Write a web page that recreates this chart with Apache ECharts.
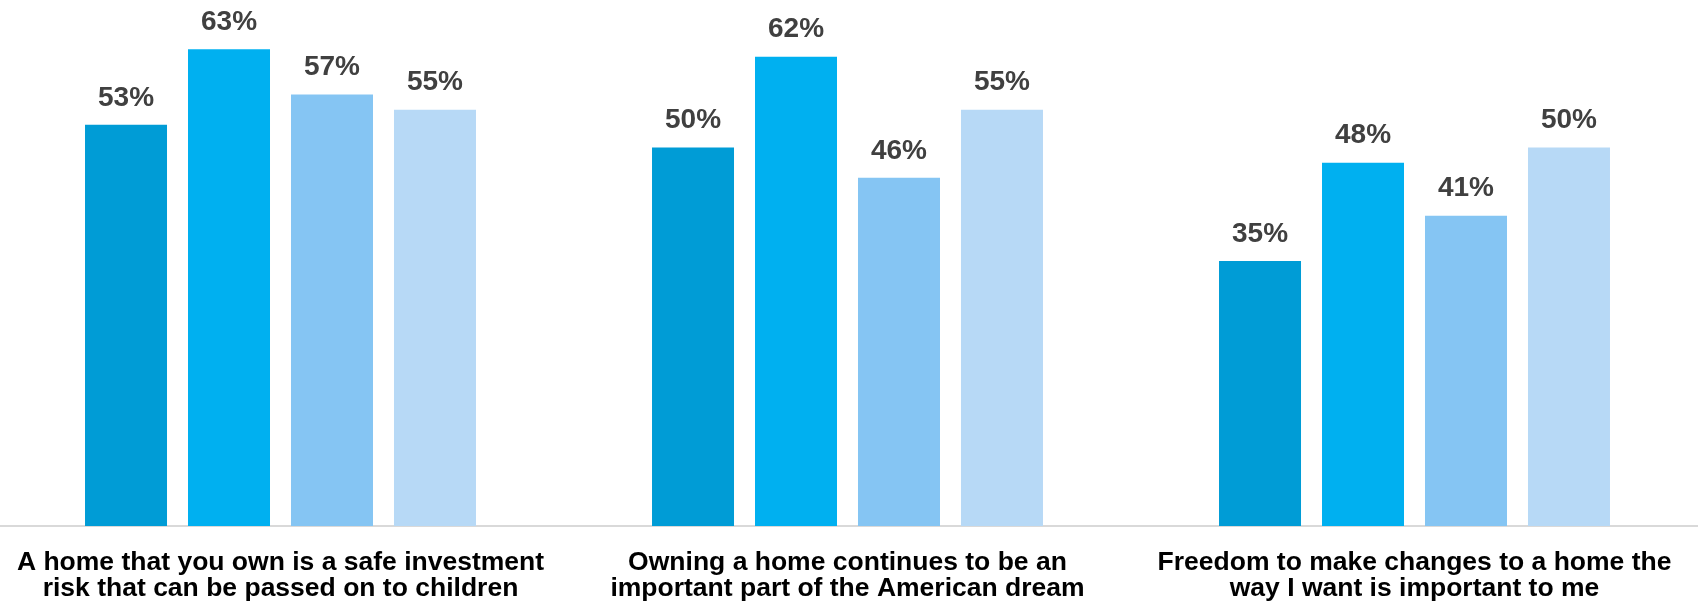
<!DOCTYPE html>
<html>
<head>
<meta charset="utf-8">
<script src="https://cdn.jsdelivr.net/npm/echarts@6/dist/echarts.min.js"></script>
<style>html,body{margin:0;padding:0;background:#fff;}#c{width:1698px;height:603px;}</style>
</head>
<body>
<div id="c"></div>
<script>
const categories = [
  "A home that you own is a safe investment\nrisk that can be passed on to children",
  "Owning a home continues to be an\nimportant part of the American dream",
  "Freedom to make changes to a home the\nway I want is important to me"
];
const seriesNames = ["Group 1", "Group 2", "Group 3", "Group 4"];
const series1 = [53, 50, 35];
const series2 = [63, 62, 48];
const series3 = [57, 46, 41];
const series4 = [55, 55, 50];
const colors = ["#009CD6", "#00B0F0", "#85C5F3", "#B7D9F6"];

const allValues = [series1, series2, series3, series4];
const chart = echarts.init(document.getElementById('c'), null, {renderer: 'canvas'});
chart.setOption({
  animation: false,
  grid: {left: -3, right: 0, top: 34, bottom: 77, containLabel: false, outerBoundsMode: 'none'},
  xAxis: {
    type: 'category',
    data: categories,
    axisLine: {lineStyle: {color: '#D9D9D9', width: 2}},
    axisTick: {show: false},
    axisLabel: {
      color: '#000000',
      fontFamily: 'Liberation Sans, Arial, sans-serif',
      fontWeight: 'bold',
      fontSize: 26.5,
      lineHeight: 26,
      margin: 24,
      interval: 0
    }
  },
  yAxis: {
    type: 'value', min: 0, max: 65, show: false,
    splitLine: {show: false}
  },
  series: allValues.map((vals, i) => ({
    name: seriesNames[i],
    type: 'bar',
    data: vals,
    barWidth: 82,
    barGap: '25.6%',
    itemStyle: {color: colors[i]},
    label: {
      show: true,
      position: 'top',
      distance: 13,
      formatter: '{c}%',
      color: '#404040',
      fontFamily: 'Liberation Sans, Arial, sans-serif',
      fontWeight: 'bold',
      fontSize: 28
    }
  }))
});
</script>
</body>
</html>
